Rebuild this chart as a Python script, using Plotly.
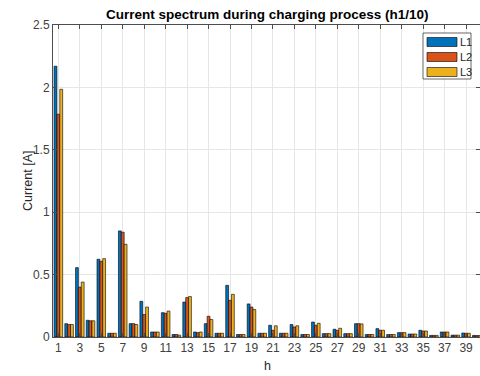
import plotly.graph_objects as go

h = list(range(1, 41))
L1 = [2.17, 0.107, 0.556, 0.134, 0.623, 0.03, 0.85, 0.107, 0.286, 0.04,
      0.195, 0.02, 0.28, 0.04, 0.107, 0.03, 0.414, 0.02, 0.265, 0.03,
      0.094, 0.03, 0.10, 0.02, 0.12, 0.027, 0.062, 0.027, 0.107, 0.02,
      0.067, 0.02, 0.035, 0.024, 0.054, 0.013, 0.04, 0.015, 0.032, 0.013]
L2 = [1.785, 0.10, 0.40, 0.13, 0.607, 0.03, 0.84, 0.107, 0.18, 0.04,
      0.19, 0.02, 0.316, 0.035, 0.166, 0.03, 0.294, 0.02, 0.24, 0.03,
      0.054, 0.03, 0.08, 0.02, 0.094, 0.027, 0.053, 0.027, 0.107, 0.02,
      0.054, 0.02, 0.035, 0.024, 0.048, 0.013, 0.04, 0.015, 0.03, 0.012]
L3 = [1.985, 0.10, 0.44, 0.13, 0.628, 0.03, 0.743, 0.10, 0.24, 0.04,
      0.208, 0.015, 0.324, 0.04, 0.14, 0.03, 0.342, 0.02, 0.22, 0.03,
      0.09, 0.03, 0.09, 0.02, 0.11, 0.027, 0.07, 0.027, 0.105, 0.02,
      0.054, 0.02, 0.035, 0.024, 0.048, 0.013, 0.04, 0.015, 0.03, 0.012]
series_names = ["L1", "L2", "L3"]
colors = ["#0072BD", "#D95319", "#EDB120"]
x_ticks = list(range(1, 40, 2))
y_ticks = [0, 0.5, 1, 1.5, 2, 2.5]

W, H = 480, 376
ML, MR, MT, MB = 53, 0, 25, 39
pw, ph = W - ML - MR, H - MT - MB


def px(x):
    return (x - ML) / pw


def py(y):
    return (H - MB - y) / ph


fig = go.Figure()
for name, vals, c in zip(series_names, [L1, L2, L3], colors):
    fig.add_trace(go.Bar(x=h, y=vals, name=name, showlegend=False,
                         marker=dict(color=c, line=dict(color="#000000", width=0.6))))

font = "Liberation Sans, Arial, sans-serif"

shapes = [dict(type="rect", xref="paper", yref="paper",
               x0=px(423), x1=px(471), y0=py(79), y1=py(33),
               line=dict(color="#262626", width=0.7), fillcolor="white", layer="above")]
annotations = [
    dict(text="<b>Current spectrum during charging process (h1/10)</b>",
         x=px(267), xref="paper", y=py(15), yref="paper", showarrow=False,
         xanchor="center", yanchor="middle",
         font=dict(family=font, size=13.5, color="#000000")),
    dict(text="h", x=px(267), xref="paper", y=py(366), yref="paper", showarrow=False,
         xanchor="center", yanchor="middle",
         font=dict(family=font, size=12.5, color="#262626")),
    dict(text="Current [A]", x=px(28), xref="paper", y=py(181), yref="paper",
         showarrow=False, textangle=-90, xanchor="center", yanchor="middle",
         font=dict(family=font, size=12.5, color="#262626")),
]
for i, (name, c) in enumerate(zip(series_names, colors)):
    cy = 42 + 15 * i
    shapes.append(dict(type="rect", xref="paper", yref="paper",
                       x0=px(427), x1=px(457), y0=py(cy + 4.5), y1=py(cy - 4.5),
                       line=dict(color="#000000", width=0.6), fillcolor=c, layer="above"))
    annotations.append(dict(text=name, x=px(458), xref="paper", y=py(cy), yref="paper",
                            showarrow=False, xanchor="left", yanchor="middle",
                            font=dict(family=font, size=11, color="#262626")))

fig.update_layout(
    width=W, height=H,
    margin=dict(l=ML, r=MR, t=MT, b=MB, autoexpand=False),
    paper_bgcolor="white", plot_bgcolor="white",
    barmode="group", bargap=0.2, bargroupgap=0.0,
    font=dict(family=font, size=11, color="#262626"),
    showlegend=False,
    shapes=shapes,
    annotations=annotations,
)

fig.update_xaxes(range=[0.5, 40.3], tickvals=x_ticks, ticktext=[str(v) for v in x_ticks],
                 showgrid=True, gridcolor="#e6e6e6", gridwidth=1,
                 showline=True, linecolor="#4d4d4d", linewidth=1, mirror="ticks",
                 ticks="inside", ticklen=4, tickcolor="#4d4d4d",
                 tickfont=dict(family=font, size=12, color="#404040"),
                 automargin=False, zeroline=False)
fig.update_yaxes(range=[0, 2.5], tickvals=y_ticks, ticktext=["0", "0.5", "1", "1.5", "2", "2.5"],
                 showgrid=True, gridcolor="#e6e6e6", gridwidth=1,
                 showline=True, linecolor="#4d4d4d", linewidth=1, mirror="ticks",
                 ticks="inside", ticklen=4, tickcolor="#4d4d4d",
                 tickfont=dict(family=font, size=12, color="#404040"),
                 automargin=False, zeroline=False)

fig.write_html("out.html", config={"displayModeBar": False},
               post_script="document.body.style.margin='0';document.body.style.overflow='hidden';")
